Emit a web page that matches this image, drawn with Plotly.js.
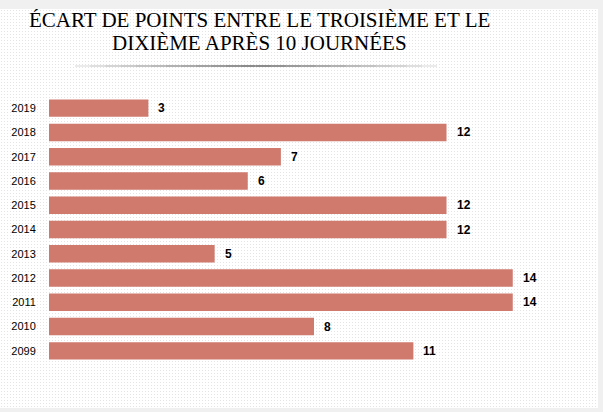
<!DOCTYPE html>
<html>
<head>
<meta charset="utf-8">
<script src="https://cdn.plot.ly/plotly-3.0.1.min.js"></script>
<style>
  html, body { margin: 0; padding: 0; background: #f0f0f0; }
  #chart {
    margin-top: 9px;
    width: 598px; height: 399px;
    background-color: #ffffff;
    background-image: radial-gradient(#e4e4e4 0.7px, transparent 0.9px);
    background-size: 3px 3px;
  }
</style>
</head>
<body>
<div id="chart"></div>
<script>
// Point gap between 3rd and 10th after 10 matchdays, by season (top to bottom)
const seasons = ['2019', '2018', '2017', '2016', '2015', '2014', '2013', '2012', '2011', '2010', '2099'];
const pointGap = [3, 12, 7, 6, 12, 12, 5, 14, 14, 8, 11];
const titleLines = ['ÉCART DE POINTS ENTRE LE TROISIÈME ET LE', 'DIXIÈME APRÈS 10 JOURNÉES'];

const TOP = 9; // grey strip above the chart box
const W = 598, H = 399;
const margin = { l: 49, r: 19, t: 96 - TOP, b: 45 };
const plotW = W - margin.l - margin.r;
const plotH = H - margin.t - margin.b;

// page pixel -> paper helpers for title and underline
const px = x => (x - margin.l) / plotW;
const py = y => (H - margin.b - (y - TOP)) / plotH;

const trace = {
  type: 'bar',
  orientation: 'h',
  x: pointGap,
  y: seasons,
  marker: { color: '#d07a6e' },
  hoverinfo: 'x+y'
};

// value labels at the end of each bar (category index as y)
const labels = seasons.map((s, i) => ({
  x: pointGap[i], y: i, xref: 'x', yref: 'y',
  text: String(pointGap[i]), showarrow: false,
  xanchor: 'left', xshift: 8,
  font: { family: 'Liberation Sans, Arial, sans-serif', size: 12, color: '#000', weight: 'bold' }
}));

// two title lines, set tighter than plotly's default line height
const titleY = [20, 43];
titleLines.forEach((t, i) => labels.push({
  xref: 'paper', yref: 'paper', x: px(259), y: py(titleY[i]),
  xanchor: 'center', yanchor: 'middle', showarrow: false,
  text: t,
  font: { family: 'Liberation Serif, Times New Roman, serif', size: 21, color: '#000' }
}));

// grey gradient rule under the title
const rule = [];
const x0 = 75, x1 = 437, steps = 24;
for (let i = 0; i < steps; i++) {
  const t = (i + 0.5) / steps;
  const d = 1 - Math.abs(t - 0.5) * 2;
  const g = Math.round(235 - 180 * Math.pow(d, 0.8));
  rule.push({
    type: 'line', xref: 'paper', yref: 'paper',
    x0: px(x0 + (x1 - x0) * i / steps), x1: px(x0 + (x1 - x0) * (i + 1) / steps),
    y0: py(66), y1: py(66),
    line: { color: `rgb(${g},${g},${g})`, width: 1.2 }
  });
}

const layout = {
  width: W, height: H,
  margin: margin,
  paper_bgcolor: 'rgba(0,0,0,0)',
  plot_bgcolor: 'rgba(0,0,0,0)',
  showlegend: false,
  bargap: 0.28,
  xaxis: {
    range: [0, 16], visible: false, fixedrange: true
  },
  yaxis: {
    type: 'category',
    categoryorder: 'array', categoryarray: seasons,
    range: [seasons.length - 0.5, -0.5],
    showgrid: false, zeroline: false, showline: false,
    ticks: 'outside', ticklen: 10, tickcolor: 'rgba(0,0,0,0)',
    tickfont: { family: 'Liberation Sans, Arial, sans-serif', size: 11, color: '#000' }
  },
  annotations: labels,
  shapes: rule
};

Plotly.newPlot('chart', [trace], layout, { displayModeBar: false, staticPlot: true });
</script>
</body>
</html>
